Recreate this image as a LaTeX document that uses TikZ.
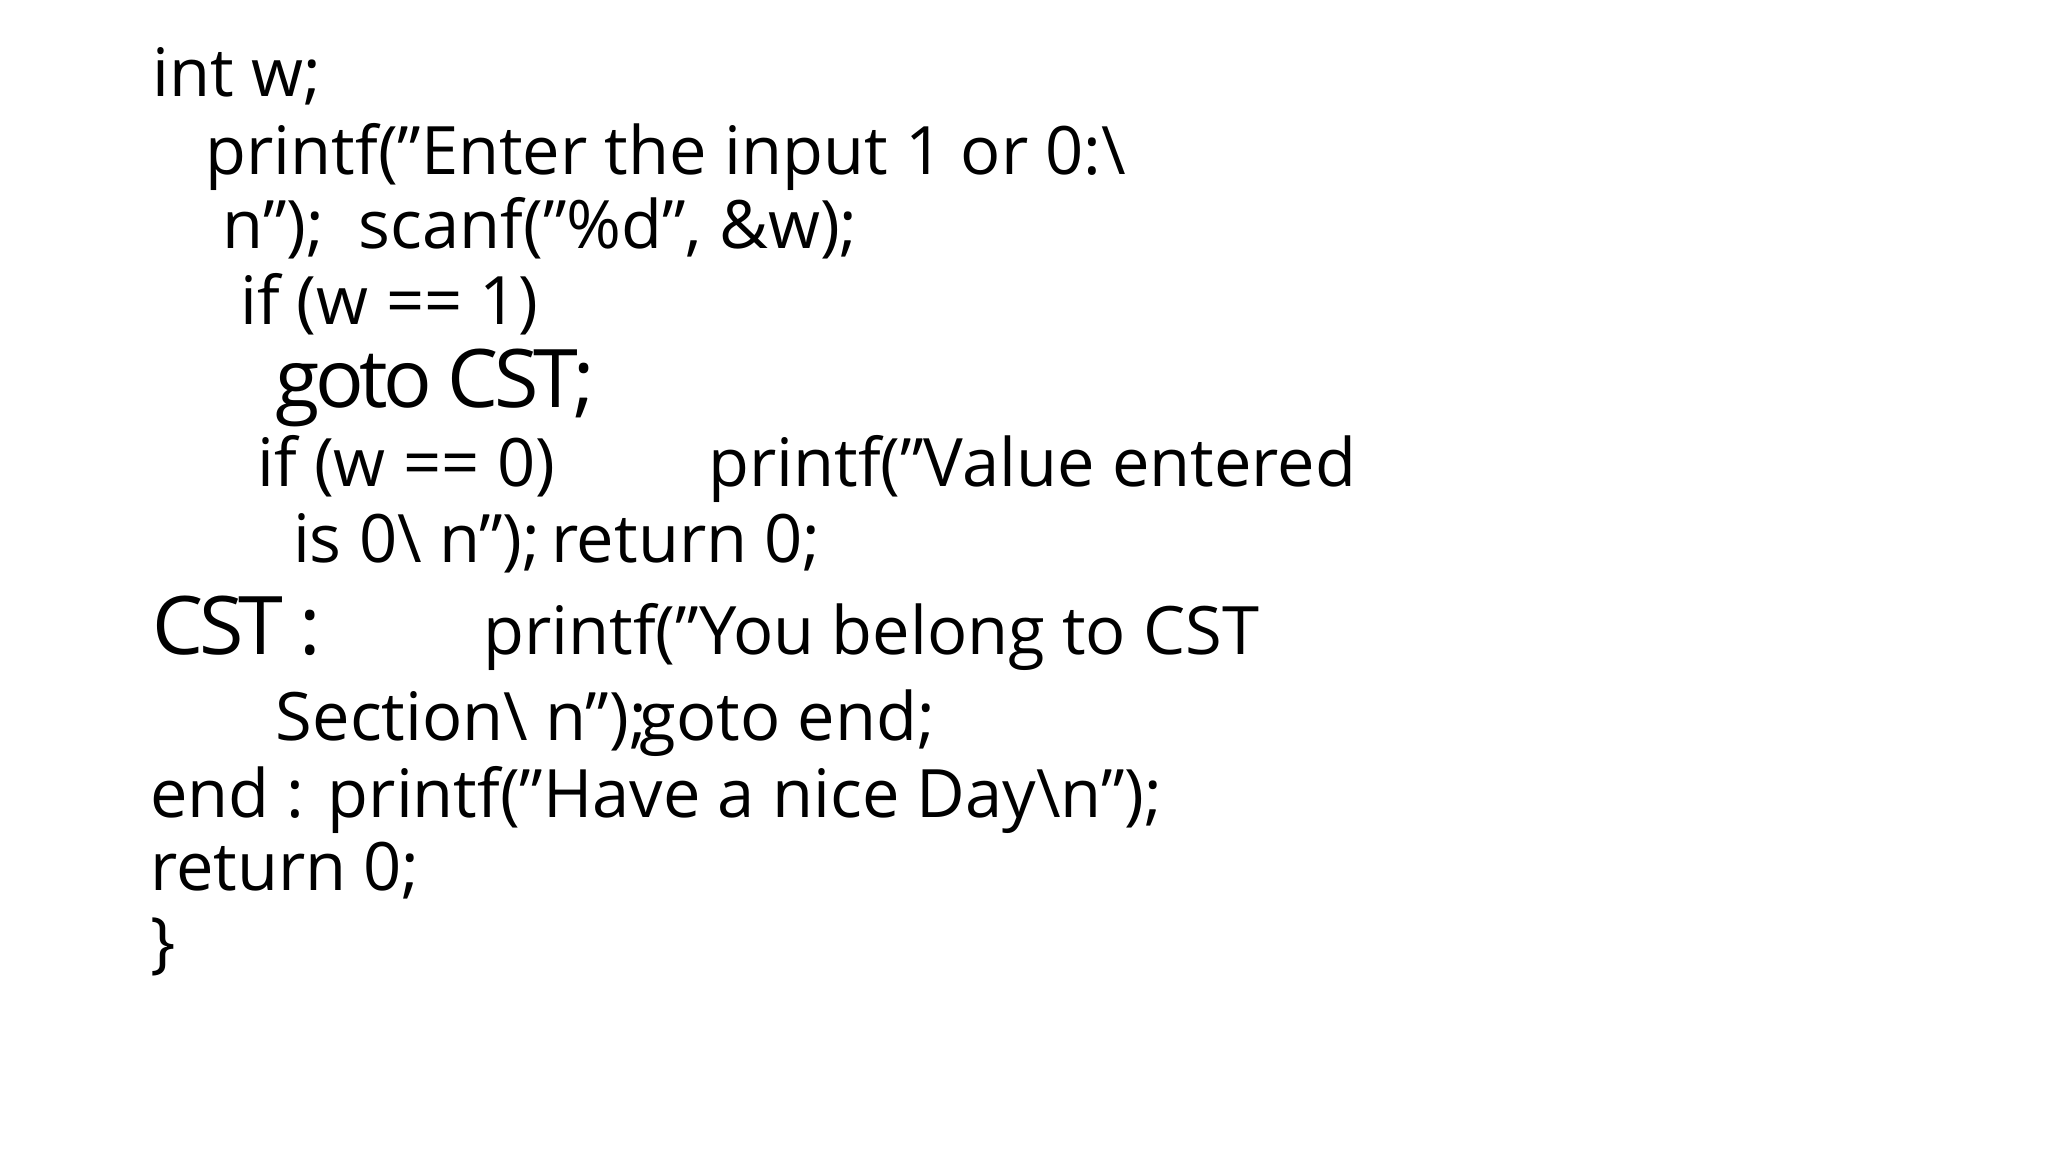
\documentclass[tikz,border=0pt]{standalone}
\usepackage{fontspec}
\setmainfont{Open Sans}
\begin{document}
\begin{tikzpicture}[x=0.01323cm,y=-0.01323cm,
  t/.style={anchor=base west,inner sep=0pt,font=\fontsize{19}{22}\selectfont},
  big/.style={anchor=base west,inner sep=0pt,font=\fontsize{23}{26}\selectfont\addfontfeatures{LetterSpace=-6}}]
\useasboundingbox (0,0) rectangle (1548,871);
\node[t] (l1) at (115,73) {int w;};
\node[t] (l2) at (155,132) {printf("Enter the input 1 or 0:\textbackslash};
\node[t] (l3) at (168,188) {n");\ \ scanf("\%d", \&w);};
\node[t] (l4) at (181,245) {if (w == 1)};
\node[big] (l5) at (208,308) {goto CST;};
\node[t] (l6) at (194,368) {if (w == 0)};
\node[t] (l6b) at (535,368) {printf("Value entered};
\node[t] (l7) at (221,425) {is 0\textbackslash\ n");};
\node[t] (l7b) at (416,425) {return 0;};
\node[big] (l8) at (115,495) {CST :};
\node[t] (l8b) at (365,495) {printf("You belong to CST};
\node[t] (l9) at (208,560) {Section\textbackslash\ n");};
\node[t] (l9b) at (483,560) {goto end;};
\node[t] (l10) at (113,618) {end : printf("Have a nice Day\textbackslash n");};
\node[t] (l11) at (113,673) {return 0;};
\node[t] (l12) at (113,730) {\}};
\end{tikzpicture}
\end{document}
